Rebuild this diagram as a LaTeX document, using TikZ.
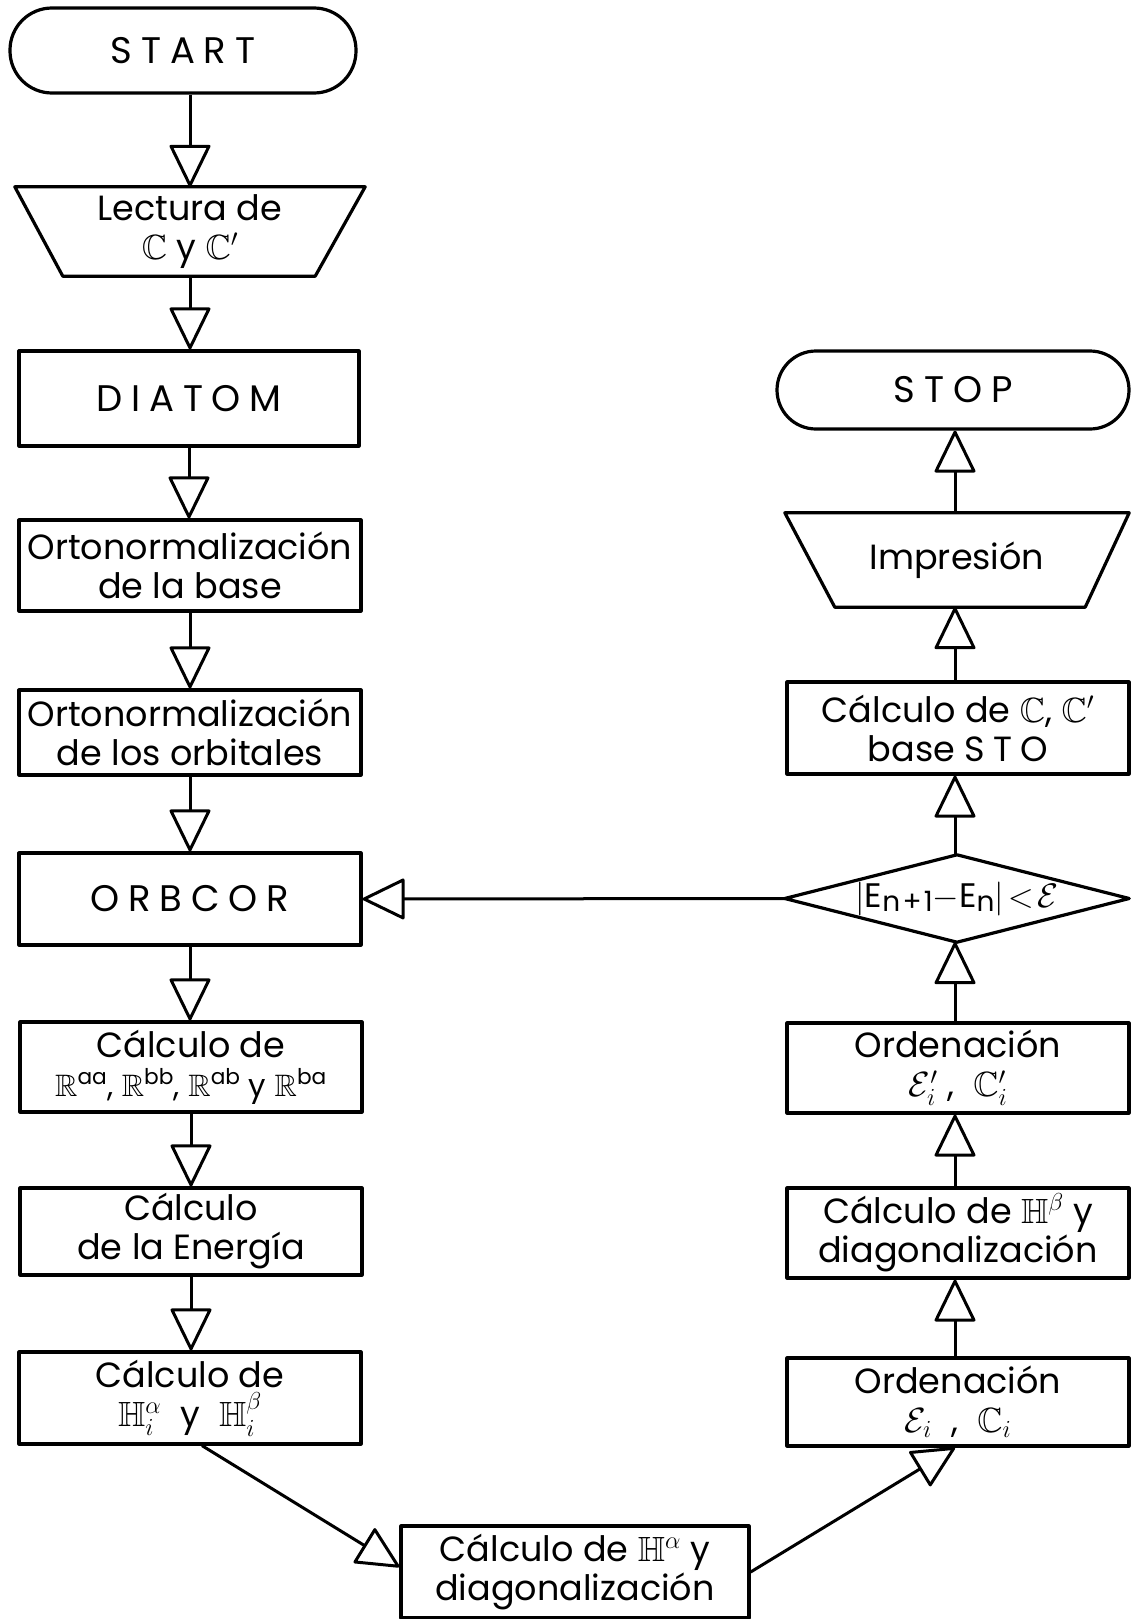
\RequirePackage{fix-cm}
\documentclass[tikz,border=0pt]{standalone}
\usepackage{amssymb}
\usepackage{fontspec}
\setmainfont{Poppins}
\newfontfamily\spaced[LetterSpace=24]{Poppins}
\newfontfamily\semispaced[LetterSpace=8]{Poppins}
\usetikzlibrary{arrows.meta}
\tikzset{
  lw/.style={line width=3.2pt, line join=round},
  txt/.style={inner sep=0pt, align=center, font=\fontsize{35}{39}\selectfont},
  box/.style={txt, lw, draw, minimum width=342pt},
  term/.style={txt, lw, draw, rounded corners=#1},
  plain/.style={txt},
  shapeline/.style={lw},
  caps/.style={font=\fontsize{37}{40}\selectfont\spaced},
  arr/.style={line width=3pt, -{Triangle[open, length=44pt, width=42pt, round]}},
}
\newcommand{\lowsub}[1]{\lower4pt\hbox{\fontsize{28}{30}\selectfont\semispaced #1}}
\begin{document}
\begin{tikzpicture}[x=1pt,y=-1pt]
\useasboundingbox (0,0) rectangle (1131,1619);
% left column
\node[term=42pt, caps, minimum width=346pt, minimum height=85pt] (start) at (183,50.5) {START};
\node[plain, minimum width=350pt, minimum height=89pt] (lect) at (190,231.5) {Lectura de\\$\mathbb{C}$ y $\mathbb{C}'$};
\draw[shapeline] (lect.north west) -- (lect.north east) -- ([xshift=-50pt]lect.south east) -- ([xshift=48pt]lect.south west) -- cycle;
\node[box, caps, minimum width=340pt, minimum height=95pt] (diatom) at (189,398.5) {DIATOM};
\node[box, minimum height=91pt] (orto1) at (190,565.5) {Ortonormalización\\de la base};
\node[box, minimum height=85pt] (orto2) at (190,732.5) {Ortonormalización\\de los orbitales};
\node[box, caps, minimum height=92pt] (orbcor) at (190,899) {ORBCOR};
\node[box, minimum height=90pt] (calcR) at (191,1067) {Cálculo de\\{\fontsize{31}{34}\selectfont $\mathbb{R}$\textsuperscript{aa}, $\mathbb{R}$\textsuperscript{bb}, $\mathbb{R}$\textsuperscript{ab} y $\mathbb{R}$\textsuperscript{ba}}};
\node[box, minimum height=87pt] (energ) at (191,1231.5) {Cálculo\\de la Energía};
\node[box, minimum height=92pt] (calcH) at (190,1398) {Cálculo de\\$\mathbb{H}^{\alpha}_{i}$ \;y\; $\mathbb{H}^{\beta}_{i}$};
\node[box, minimum width=348pt, minimum height=92pt] (bot) at (575,1572) {Cálculo de $\mathbb{H}^{\alpha}$ y\\diagonalización};
% right column
\node[term=39pt, caps, minimum width=352pt, minimum height=78pt] (stop) at (953,390) {STOP};
\node[plain, minimum width=344pt, minimum height=94pt] (impr) at (957,560) {Impresión};
\draw[shapeline] (impr.north west) -- (impr.north east) -- ([xshift=-44pt]impr.south east) -- ([xshift=50pt]impr.south west) -- cycle;
\node[box, minimum height=92pt] (calcC) at (958,728) {Cálculo de $\mathbb{C}$, $\mathbb{C}'$\\base {\spaced STO}};
\node[plain, minimum width=344pt, minimum height=87pt, font=\fontsize{34}{36}\selectfont] (diam) at (957,898.5) {$|$E\lowsub{n+1}$-$E\lowsub{n}$|\!<\!\mathcal{E}$};
\draw[shapeline] (diam.west) -- (diam.north) -- (diam.east) -- (diam.south) -- cycle;
\node[box, minimum height=90pt] (ord2) at (958,1068) {Ordenación\\$\mathcal{E}_{i}^{\prime}$\;,\; $\mathbb{C}^{\prime}_{i}$};
\node[box, minimum height=90pt] (calcHb) at (958,1233) {Cálculo de $\mathbb{H}^{\beta}$ y\\diagonalización};
\node[box, minimum height=88pt] (ord1) at (958,1402) {Ordenación\\$\mathcal{E}_{i}$\;\;,\; $\mathbb{C}_{i}$};
% connectors
\draw[arr] (start.south -| lect.north) -- (lect.north);
\draw[arr] (lect.south) -- (diatom.north -| lect.south);
\draw[arr] (diatom.south) -- (orto1.north -| diatom.south);
\draw[arr] (orto1.south) -- (orto2.north);
\draw[arr] (orto2.south) -- (orbcor.north);
\draw[arr] (orbcor.south) -- (calcR.north -| orbcor.south);
\draw[arr] (calcR.south) -- (energ.north);
\draw[arr] (energ.south) -- (calcH.north -| energ.south);
\draw[arr] ([xshift=12pt]calcH.south) -- ([yshift=5pt]bot.west);
\draw[arr] (bot.east) -- ([xshift=-3pt]ord1.south);
\draw[arr] ([xshift=-3pt]ord1.north) -- ([xshift=-3pt]calcHb.south);
\draw[arr] ([xshift=-3pt]calcHb.north) -- ([xshift=-3pt]ord2.south);
\draw[arr] ([xshift=-3pt]ord2.north) -- ([xshift=-2pt]diam.south);
\draw[arr] (diam.west) -- (orbcor.east);
\draw[arr] ([xshift=-2pt]diam.north) -- ([xshift=-3pt]calcC.south);
\draw[arr] ([xshift=-3pt]calcC.north) -- ([xshift=-2pt]impr.south);
\draw[arr] ([xshift=-2pt]impr.north) -- ([xshift=2pt]stop.south);
\end{tikzpicture}
\end{document}
